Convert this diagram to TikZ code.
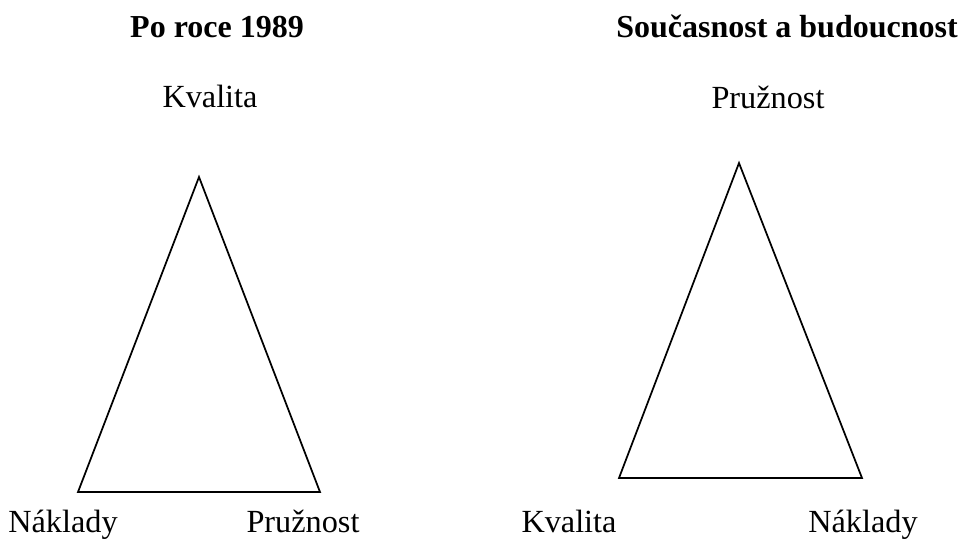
\documentclass[tikz,border=0pt]{standalone}
\usepackage{fontspec}
\setmainfont{Liberation Serif}
\usepackage{tikz}
\usetikzlibrary{positioning}
\tikzset{
  ttl/.style={anchor=base,inner sep=0pt,font=\fontsize{24}{29}\selectfont\bfseries},
  lbl/.style={anchor=base,inner sep=0pt,font=\fontsize{24.2}{29}\selectfont},
  tri/.style={draw=black,line width=1.3pt,line join=miter},
}
\begin{document}
\begin{tikzpicture}[x=0.75pt,y=-0.75pt]
  \useasboundingbox (0,0) rectangle (960,540);
  % before 1989
  \node[ttl] (t1) at (217,37) {Po roce 1989};
  \coordinate (a1) at (199,177);
  \coordinate (b1) at (78,492);
  \coordinate (c1) at (320,492);
  \draw[tri] (a1) -- (b1) -- (c1) -- cycle;
  \node[lbl] (ka1) at (210,107) {Kvalita};
  \node[lbl] (na1) at (63,532) {Náklady};
  \node[lbl] (pr1) at (303,532) {Pružnost};
  % now and future
  \node[ttl] (t2) at (787,37) {Současnost a budoucnost};
  \coordinate (a2) at (739,163);
  \coordinate (b2) at (619,478);
  \coordinate (c2) at (862,478);
  \draw[tri] (a2) -- (b2) -- (c2) -- cycle;
  \node[lbl] (pr2) at (768,108) {Pružnost};
  \node[lbl] (ka2) at (569,532) {Kvalita};
  \node[lbl] (na2) at (863,532) {Náklady};
\end{tikzpicture}
\end{document}
